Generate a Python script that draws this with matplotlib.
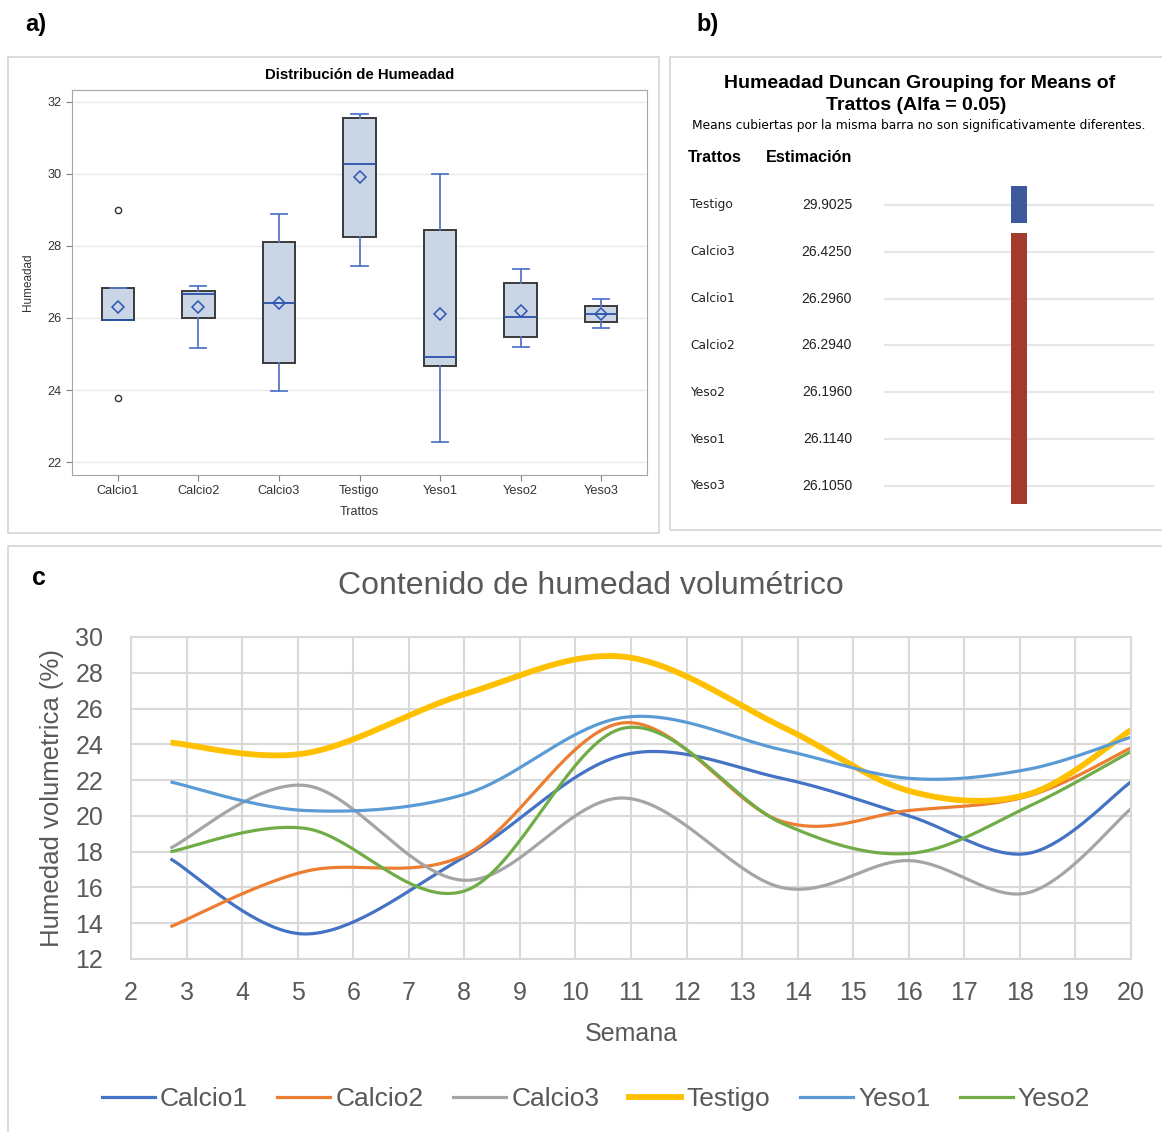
import numpy as np
import matplotlib
matplotlib.use("Agg")
import matplotlib.pyplot as plt
from matplotlib.patches import Rectangle
from matplotlib.lines import Line2D

plt.rcParams["font.family"] = ["Liberation Sans", "DejaVu Sans"]

# ---- a) box plot summary per treatment ----
treatments = ["Calcio1", "Calcio2", "Calcio3", "Testigo", "Yeso1", "Yeso2", "Yeso3"]
box_q1 = [25.94, 26.00, 24.76, 28.25, 24.66, 25.46, 25.88]
box_med = [25.94, 26.67, 26.42, 30.27, 24.91, 26.03, 26.10]
box_q3 = [26.82, 26.75, 28.10, 31.56, 28.45, 26.97, 26.33]
whisk_lo = [25.94, 25.17, 23.97, 27.43, 22.56, 25.20, 25.72]
whisk_hi = [26.82, 26.89, 28.88, 31.65, 30.00, 27.35, 26.53]
outliers = [[29.0, 23.78], [], [], [], [], [], []]

# ---- b) Duncan grouping ----
duncan_order = ["Testigo", "Calcio3", "Calcio1", "Calcio2", "Yeso2", "Yeso1", "Yeso3"]
duncan_means = [29.9025, 26.4250, 26.2960, 26.2940, 26.1960, 26.1140, 26.1050]
duncan_group = ["A", "B", "B", "B", "B", "B", "B"]
group_colors = {"A": "#3F5A9C", "B": "#A33A2E"}

# ---- c) weekly volumetric moisture ----
weeks = [2.71, 5.14, 8.0, 10.86, 13.71, 16.0, 18.14, 20.0]
calcio1 = [17.6, 13.4, 17.7, 23.4, 22.1, 20.0, 17.9, 21.9]
calcio2 = [13.8, 16.9, 17.8, 25.2, 19.7, 20.3, 21.1, 23.8]
calcio3 = [18.2, 21.7, 16.4, 21.0, 16.0, 17.5, 15.7, 20.4]
testigo = [24.1, 23.5, 26.8, 28.9, 25.0, 21.4, 21.2, 24.8]
yeso1 = [21.9, 20.3, 21.2, 25.5, 23.7, 22.1, 22.6, 24.4]
yeso2 = [18.0, 19.3, 15.8, 24.9, 19.6, 17.9, 20.5, 23.6]
series_names = ["Calcio1", "Calcio2", "Calcio3", "Testigo", "Yeso1", "Yeso2"]
series_vals = [calcio1, calcio2, calcio3, testigo, yeso1, yeso2]
series_colors = ["#4472C4", "#ED7D31", "#A5A5A5", "#FFC000", "#5B9BD5", "#70AD47"]
series_lw = [2.3, 2.3, 2.3, 4.2, 2.3, 2.3]

W, H = 1162, 1132
fig = plt.figure(figsize=(W / 100, H / 100), dpi=100)


def rect(x0, y0, x1, y1):
    return [x0 / W, 1 - y1 / H, (x1 - x0) / W, (y1 - y0) / H]


def ftext(x, y, s, **kw):
    fig.text(x / W, 1 - y / H, s, **kw)


def frame(x0, y0, x1, y1):
    fig.add_artist(Rectangle((x0 / W, 1 - y1 / H), (x1 - x0) / W, (y1 - y0) / H,
                             transform=fig.transFigure, fill=False,
                             ec="#D4D4D4", lw=1.2))


def smooth(xs, ys, sx, sy, n=40):
    # Catmull-Rom through the points, done in screen-like units
    P = np.column_stack([np.asarray(xs) * sx, np.asarray(ys) * sy])
    ext = np.vstack([P[0], P, P[-1]])
    t = np.linspace(0, 1, n)[:, None]
    out = []
    for i in range(len(P) - 1):
        p0, p1, p2, p3 = ext[i], ext[i + 1], ext[i + 2], ext[i + 3]
        c1 = p1 + (p2 - p0) / 6
        c2 = p2 - (p3 - p1) / 6
        seg = (1 - t) ** 3 * p1 + 3 * (1 - t) ** 2 * t * c1 + 3 * (1 - t) * t ** 2 * c2 + t ** 3 * p2
        out.append(seg if i == 0 else seg[1:])
    pts = np.vstack(out)
    return pts[:, 0] / sx, pts[:, 1] / sy


# panel frames and letters
frame(8, 57, 659, 533)
frame(670, 57, 1175, 530)
frame(8, 546, 1175, 1145)
ftext(25, 25, "a)", fontsize=17, fontweight="bold", va="center")
ftext(696, 25, "b)", fontsize=17, fontweight="bold", va="center")
ftext(32, 578, "c", fontsize=18, fontweight="bold", va="center")

# ---------------- a) ----------------
axa = fig.add_axes(rect(72, 90, 647, 475))
stats = []
for i, t in enumerate(treatments):
    stats.append(dict(label=t, q1=box_q1[i], med=box_med[i], q3=box_q3[i],
                      whislo=whisk_lo[i], whishi=whisk_hi[i],
                      mean=duncan_means[duncan_order.index(t)],
                      fliers=np.array(outliers[i])))
axa.bxp(stats, positions=range(1, 8), widths=0.4, capwidths=0.2,
        showmeans=True, patch_artist=True,
        boxprops=dict(facecolor="#CAD5E6", edgecolor="#3A3A3A", linewidth=1.4),
        medianprops=dict(color="#2A4FA8", linewidth=1.3),
        whiskerprops=dict(color="#5577C8", linewidth=1.3),
        capprops=dict(color="#5577C8", linewidth=1.3),
        meanprops=dict(marker="D", markerfacecolor="none", markeredgecolor="#2C56B5",
                       markersize=6.5, markeredgewidth=1.1),
        flierprops=dict(marker="o", markerfacecolor="none", markeredgecolor="#333333",
                        markersize=4.5, markeredgewidth=1.0))
axa.set_xlim(0.43, 7.57)
axa.set_ylim(21.64, 32.33)
axa.set_yticks(range(22, 33, 2))
axa.yaxis.grid(True, color="#E8E8E8", lw=1)
axa.set_axisbelow(True)
for s in axa.spines.values():
    s.set_color("#A6A6A6")
axa.tick_params(colors="#7F7F7F", labelcolor="#333333", labelsize=9.2, length=4)
ftext(360, 75, "Distribución de Humeadad", fontsize=10.8, fontweight="bold",
      ha="center", va="center")
ftext(28, 282, "Humeadad", fontsize=8.5, rotation=90, ha="center", va="center", color="#333333")
ftext(359, 512, "Trattos", fontsize=9.2, ha="center", va="center", color="#333333")

# ---------------- b) ----------------
axb = fig.add_axes(rect(670, 160, 1162, 530))
axb.set_xlim(0, 1)
axb.set_ylim(6.94, -0.96)
axb.axis("off")
rows = np.arange(len(duncan_order))
tr = axb.get_yaxis_transform()
axb.hlines(rows, 0.435, 0.984, color="#E6E6E6", lw=1.6, transform=tr, zorder=1)
for i, (name, m) in enumerate(zip(duncan_order, duncan_means)):
    axb.text(0.041, i, name, fontsize=8.8, ha="left", va="center", transform=tr,
             color="#222222", family="DejaVu Sans")
    axb.text(0.370, i, f"{m:.4f}", fontsize=10, ha="right", va="center", transform=tr,
             color="#222222")
for g in ["A", "B"]:
    idx = [i for i, gg in enumerate(duncan_group) if gg == g]
    lo, hi = min(idx), max(idx)
    axb.bar(0.709, hi - lo + 0.8, bottom=lo - 0.41, width=0.0325,
            color=group_colors[g], edgecolor="none", zorder=3)
ftext(920, 83, "Humeadad Duncan Grouping for Means of", fontsize=14, fontweight="bold",
      ha="center", va="center")
ftext(916, 105, "Trattos (Alfa = 0.05)", fontsize=14, fontweight="bold",
      ha="center", va="center")
ftext(919, 126, "Means cubiertas por la misma barra no son significativamente diferentes.",
      fontsize=8.8, ha="center", va="center", family="DejaVu Sans")
ftext(688, 157, "Trattos", fontsize=11.6, fontweight="bold", va="center")
ftext(766, 157, "Estimación", fontsize=11.6, fontweight="bold", va="center")

# ---------------- c) ----------------
axc = fig.add_axes(rect(131, 637, 1131, 959))
sx, sy = 1000 / 18, 322 / 18
for name, vals, col, lw in zip(series_names, series_vals, series_colors, series_lw):
    xs, ys = smooth(weeks, vals, sx, sy)
    axc.plot(xs, ys, color=col, lw=lw, solid_capstyle="butt", label=name)
axc.set_xlim(2, 20)
axc.set_ylim(12, 30)
axc.set_xticks(range(2, 21))
axc.set_yticks(range(12, 31, 2))
axc.grid(True, color="#D9D9D9", lw=1.5)
axc.set_axisbelow(True)
for s in axc.spines.values():
    s.set_color("#D9D9D9")
    s.set_linewidth(1.5)
axc.tick_params(length=0, labelsize=18, labelcolor="#595959")
axc.tick_params(axis="y", pad=20)
axc.tick_params(axis="x", pad=16)
axc.set_xlabel("Semana", fontsize=18, color="#595959", labelpad=12)
axc.set_ylabel("Humedad volumetrica (%)", fontsize=18.5, color="#595959", labelpad=8)
ftext(591, 586, "Contenido de humedad volumétrico", fontsize=23, color="#595959",
      ha="center", va="center")
handles = [Line2D([], [], color=c, lw=lw) for c, lw in zip(series_colors, series_lw)]
fig.legend(handles, series_names, loc="center", bbox_to_anchor=(596 / W, 1 - 1099 / H),
           ncol=6, frameon=False, fontsize=19, handlelength=2.0, handletextpad=0.2,
           columnspacing=1.12, labelcolor="#595959")

fig.savefig("out.png", dpi=100)
